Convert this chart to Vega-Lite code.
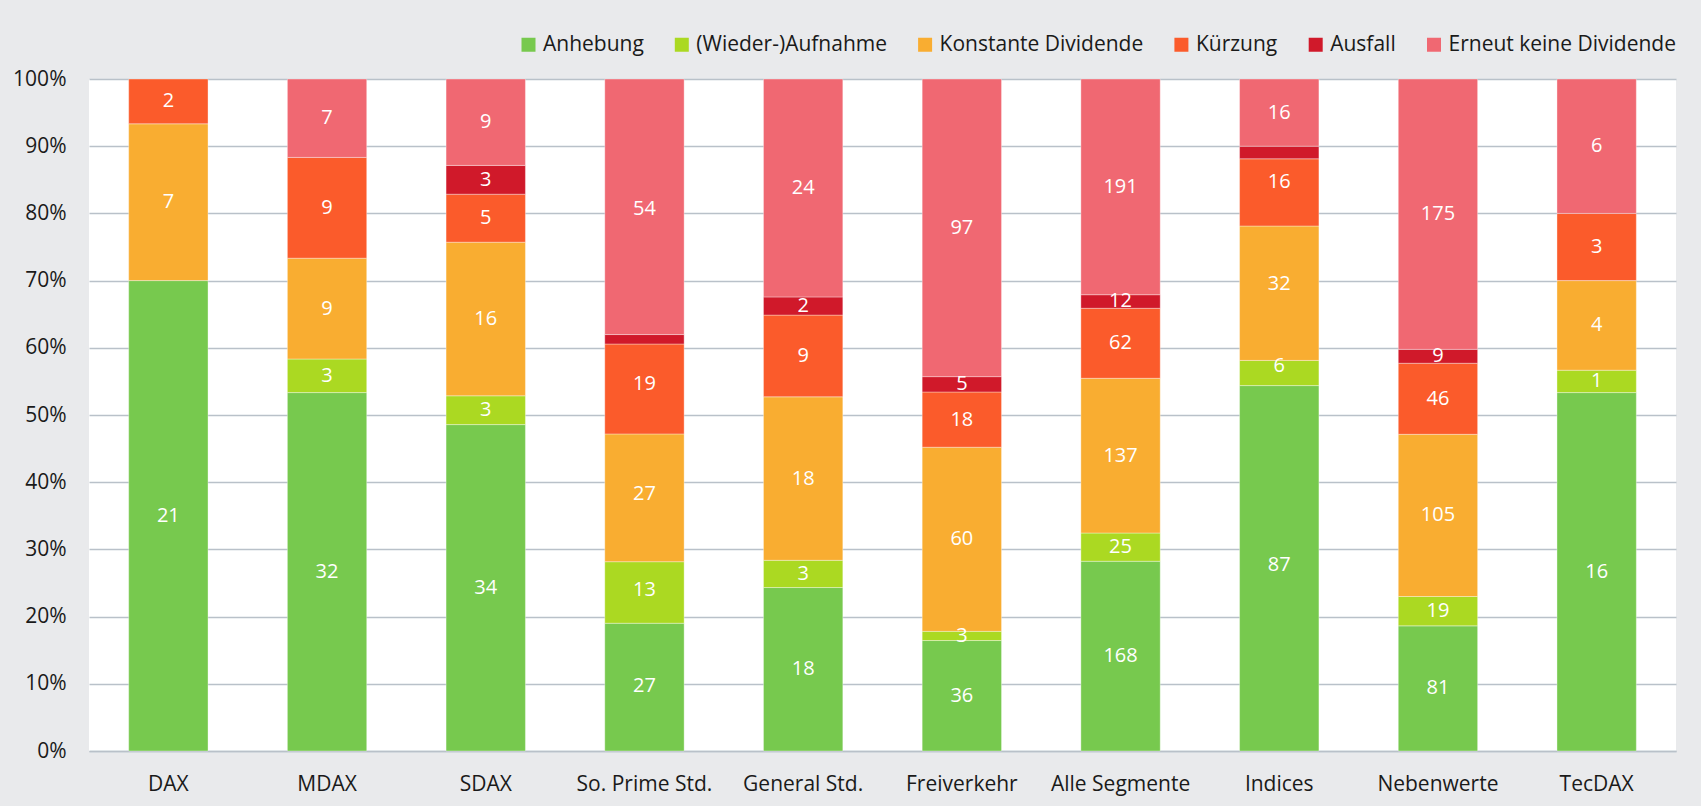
{
  "$schema": "https://vega.github.io/schema/vega-lite/v6.json",
  "width": 1587,
  "height": 672,
  "autosize": {"type": "none"},
  "padding": {"left": 89, "top": 79, "right": 25, "bottom": 55},
  "background": "#e9eaec",
  "config": {
    "font": "Open Sans",
    "view": {"fill": "white", "stroke": null},
    "axis": {"labelFont": "Open Sans", "labelFontSize": 21, "labelColor": "#1a1a1a", "ticks": false, "title": null},
    "legend": {"labelFont": "Open Sans", "labelFontSize": 21, "labelColor": "#1a1a1a"}
  },
  "data": {
    "values": [
      {"seg": "DAX", "cat": "Anhebung", "k": 1, "value": 21},
      {"seg": "DAX", "cat": "Konstante Dividende", "k": 3, "value": 7},
      {"seg": "DAX", "cat": "Kürzung", "k": 4, "value": 2},
      {"seg": "MDAX", "cat": "Anhebung", "k": 1, "value": 32},
      {"seg": "MDAX", "cat": "(Wieder-)Aufnahme", "k": 2, "value": 3},
      {"seg": "MDAX", "cat": "Konstante Dividende", "k": 3, "value": 9},
      {"seg": "MDAX", "cat": "Kürzung", "k": 4, "value": 9},
      {"seg": "MDAX", "cat": "Erneut keine Dividende", "k": 6, "value": 7},
      {"seg": "SDAX", "cat": "Anhebung", "k": 1, "value": 34},
      {"seg": "SDAX", "cat": "(Wieder-)Aufnahme", "k": 2, "value": 3},
      {"seg": "SDAX", "cat": "Konstante Dividende", "k": 3, "value": 16},
      {"seg": "SDAX", "cat": "Kürzung", "k": 4, "value": 5},
      {"seg": "SDAX", "cat": "Ausfall", "k": 5, "value": 3},
      {"seg": "SDAX", "cat": "Erneut keine Dividende", "k": 6, "value": 9},
      {"seg": "So. Prime Std.", "cat": "Anhebung", "k": 1, "value": 27},
      {"seg": "So. Prime Std.", "cat": "(Wieder-)Aufnahme", "k": 2, "value": 13},
      {"seg": "So. Prime Std.", "cat": "Konstante Dividende", "k": 3, "value": 27},
      {"seg": "So. Prime Std.", "cat": "Kürzung", "k": 4, "value": 19},
      {"seg": "So. Prime Std.", "cat": "Ausfall", "k": 5, "value": 2},
      {"seg": "So. Prime Std.", "cat": "Erneut keine Dividende", "k": 6, "value": 54},
      {"seg": "General Std.", "cat": "Anhebung", "k": 1, "value": 18},
      {"seg": "General Std.", "cat": "(Wieder-)Aufnahme", "k": 2, "value": 3},
      {"seg": "General Std.", "cat": "Konstante Dividende", "k": 3, "value": 18},
      {"seg": "General Std.", "cat": "Kürzung", "k": 4, "value": 9},
      {"seg": "General Std.", "cat": "Ausfall", "k": 5, "value": 2},
      {"seg": "General Std.", "cat": "Erneut keine Dividende", "k": 6, "value": 24},
      {"seg": "Freiverkehr", "cat": "Anhebung", "k": 1, "value": 36},
      {"seg": "Freiverkehr", "cat": "(Wieder-)Aufnahme", "k": 2, "value": 3},
      {"seg": "Freiverkehr", "cat": "Konstante Dividende", "k": 3, "value": 60},
      {"seg": "Freiverkehr", "cat": "Kürzung", "k": 4, "value": 18},
      {"seg": "Freiverkehr", "cat": "Ausfall", "k": 5, "value": 5},
      {"seg": "Freiverkehr", "cat": "Erneut keine Dividende", "k": 6, "value": 97},
      {"seg": "Alle Segmente", "cat": "Anhebung", "k": 1, "value": 168},
      {"seg": "Alle Segmente", "cat": "(Wieder-)Aufnahme", "k": 2, "value": 25},
      {"seg": "Alle Segmente", "cat": "Konstante Dividende", "k": 3, "value": 137},
      {"seg": "Alle Segmente", "cat": "Kürzung", "k": 4, "value": 62},
      {"seg": "Alle Segmente", "cat": "Ausfall", "k": 5, "value": 12},
      {"seg": "Alle Segmente", "cat": "Erneut keine Dividende", "k": 6, "value": 191},
      {"seg": "Indices", "cat": "Anhebung", "k": 1, "value": 87},
      {"seg": "Indices", "cat": "(Wieder-)Aufnahme", "k": 2, "value": 6},
      {"seg": "Indices", "cat": "Konstante Dividende", "k": 3, "value": 32},
      {"seg": "Indices", "cat": "Kürzung", "k": 4, "value": 16},
      {"seg": "Indices", "cat": "Ausfall", "k": 5, "value": 3},
      {"seg": "Indices", "cat": "Erneut keine Dividende", "k": 6, "value": 16},
      {"seg": "Nebenwerte", "cat": "Anhebung", "k": 1, "value": 81},
      {"seg": "Nebenwerte", "cat": "(Wieder-)Aufnahme", "k": 2, "value": 19},
      {"seg": "Nebenwerte", "cat": "Konstante Dividende", "k": 3, "value": 105},
      {"seg": "Nebenwerte", "cat": "Kürzung", "k": 4, "value": 46},
      {"seg": "Nebenwerte", "cat": "Ausfall", "k": 5, "value": 9},
      {"seg": "Nebenwerte", "cat": "Erneut keine Dividende", "k": 6, "value": 175},
      {"seg": "TecDAX", "cat": "Anhebung", "k": 1, "value": 16},
      {"seg": "TecDAX", "cat": "(Wieder-)Aufnahme", "k": 2, "value": 1},
      {"seg": "TecDAX", "cat": "Konstante Dividende", "k": 3, "value": 4},
      {"seg": "TecDAX", "cat": "Kürzung", "k": 4, "value": 3},
      {"seg": "TecDAX", "cat": "Erneut keine Dividende", "k": 6, "value": 6}
    ]
  },
  "encoding": {
    "x": {
      "field": "seg",
      "type": "nominal",
      "sort": ["DAX", "MDAX", "SDAX", "So. Prime Std.", "General Std.", "Freiverkehr", "Alle Segmente", "Indices", "Nebenwerte", "TecDAX"],
      "scale": {"paddingInner": 0.5, "paddingOuter": 0.25},
      "axis": {"labelAngle": 0, "labelPadding": 22, "domainColor": "#b9c1c9", "domainWidth": 1.5, "grid": false}
    }
  },
  "layer": [
    {
      "mark": {"type": "bar", "stroke": "white", "strokeWidth": 1, "strokeOpacity": 0.35},
      "encoding": {
        "y": {
          "field": "value",
          "type": "quantitative",
          "stack": "normalize",
          "scale": {"domain": [0, 1], "nice": false},
          "axis": {"values": [0, 0.1, 0.2, 0.3, 0.4, 0.5, 0.6, 0.7, 0.8, 0.9, 1], "format": ".0%", "labelPadding": 23, "domain": false, "gridColor": "#b9c1c9", "gridWidth": 1.5}
        },
        "order": {"field": "k", "type": "quantitative", "sort": "ascending"},
        "color": {
          "field": "cat",
          "type": "nominal",
          "scale": {
            "domain": ["Anhebung", "(Wieder-)Aufnahme", "Konstante Dividende", "Kürzung", "Ausfall", "Erneut keine Dividende"],
            "range": ["#77c94e", "#abd922", "#f9ad31", "#fb5b2b", "#d0192a", "#f06872"]
          },
          "legend": {
            "title": null,
            "orient": "none",
            "direction": "horizontal",
            "legendX": 429,
            "legendY": -45,
            "padding": 0,
            "symbolType": "square",
            "symbolSize": 196,
            "symbolStrokeWidth": 0,
            "labelOffset": 4,
            "columnPadding": 27.3,
            "labelLimit": 400
          }
        }
      }
    },
    {
      "transform": [
        {"filter": "!(datum.cat == 'Ausfall' && (datum.seg == 'So. Prime Std.' || datum.seg == 'Indices'))"}
      ],
      "mark": {"type": "text", "color": "white", "fontSize": 20, "font": "Open Sans", "baseline": "middle"},
      "encoding": {
        "y": {"field": "value", "type": "quantitative", "stack": "normalize", "bandPosition": 0.5},
        "order": {"field": "k", "type": "quantitative", "sort": "ascending"},
        "detail": {"field": "cat", "type": "nominal"},
        "text": {"field": "value", "type": "quantitative"}
      }
    }
  ]
}
